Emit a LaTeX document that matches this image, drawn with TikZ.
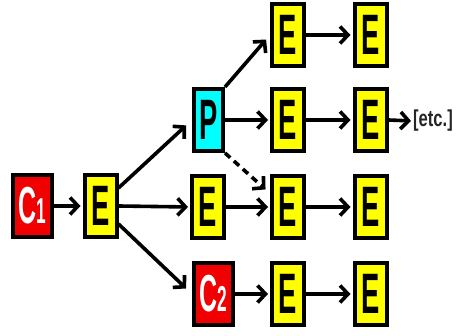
\documentclass[tikz,border=0pt]{standalone}
\usepackage{fontspec}
\setmainfont{Liberation Sans}
\usetikzlibrary{arrows.meta}
\definecolor{boxyellow}{RGB}{255,255,0}
\definecolor{boxred}{RGB}{240,0,0}
\definecolor{boxcyan}{RGB}{0,255,255}
% horizontally condensed lettering for the box labels
\newcommand\nrw[1]{\scalebox{0.48}[1]{#1}}
\begin{document}
\begin{tikzpicture}[x=1pt,y=-1pt,
  box/.style={draw=black, line width=4pt, inner sep=0pt, minimum height=62pt,
    font=\bfseries\fontsize{57}{57}\selectfont},
  ebox/.style={box, fill=boxyellow, minimum width=32pt},
  cbox/.style={box, fill=boxred, text=white, minimum width=39pt,
    font=\bfseries\fontsize{52}{52}\selectfont},
  pbox/.style={box, fill=boxcyan, minimum width=29pt},
  arr/.style={line width=3.6pt, -{Straight Barb[length=8pt,width=17pt]}, shorten >=2pt},
  darr/.style={arr, dash pattern=on 7pt off 5pt},
]
\useasboundingbox (0,0) rectangle (456,336);

% left part
\node[cbox] (C1) at (32.5,206) {\nrw{C{\fontsize{36}{36}\selectfont 1}}};
\node[ebox] (E1) at (100.5,206) {\nrw{E}};

% second column
\node[pbox] (P)  at (208.5,120) {\nrw{P}};
\node[ebox] (E2) at (208,207) {\nrw{E}};
\node[cbox] (C2) at (213.5,294) {\nrw{C{\fontsize{36}{36}\selectfont 2}}};

% third and fourth columns
\node[ebox] (E13) at (288,35)  {\nrw{E}};
\node[ebox] (E14) at (370.5,35) {\nrw{E}};
\node[ebox] (E23) at (288,120) {\nrw{E}};
\node[ebox] (E24) at (370.5,120) {\nrw{E}};
\node[ebox] (E33) at (288,207) {\nrw{E}};
\node[ebox] (E34) at (370.5,207) {\nrw{E}};
\node[ebox] (E43) at (288,294) {\nrw{E}};
\node[ebox] (E44) at (370.5,294) {\nrw{E}};

\node[text=black!85, font=\bfseries\fontsize{23}{23}\selectfont, inner sep=0pt]
  (etc) at (433,121) {\scalebox{0.72}[1]{[etc.]}};

% connectors
\draw[arr] (C1.east) -- (E1.west);
\draw[arr, shorten >=8pt] (E1.45) -- (P.west);
\draw[arr] (E1.east) -- (E2.west);
\draw[arr, shorten >=8pt] (E1.-45) -- (C2.west);

\draw[arr, shorten >=6pt] (P.north east) -- (E13.west);
\draw[arr] (P.east) -- (E23.west);
\draw[darr, shorten >=6pt] (P.south east) -- (E33.143);
\draw[arr] (E2.east) -- (E33.west);
\draw[arr] (C2.east) -- (E43.west);

\draw[arr] (E13.east) -- (E14.west);
\draw[arr] (E23.east) -- (E24.west);
\draw[arr] (E33.east) -- (E34.west);
\draw[arr] (E43.east) -- (E44.west);
\draw[arr] (E24.east) -- (etc.west);
\end{tikzpicture}
\end{document}
